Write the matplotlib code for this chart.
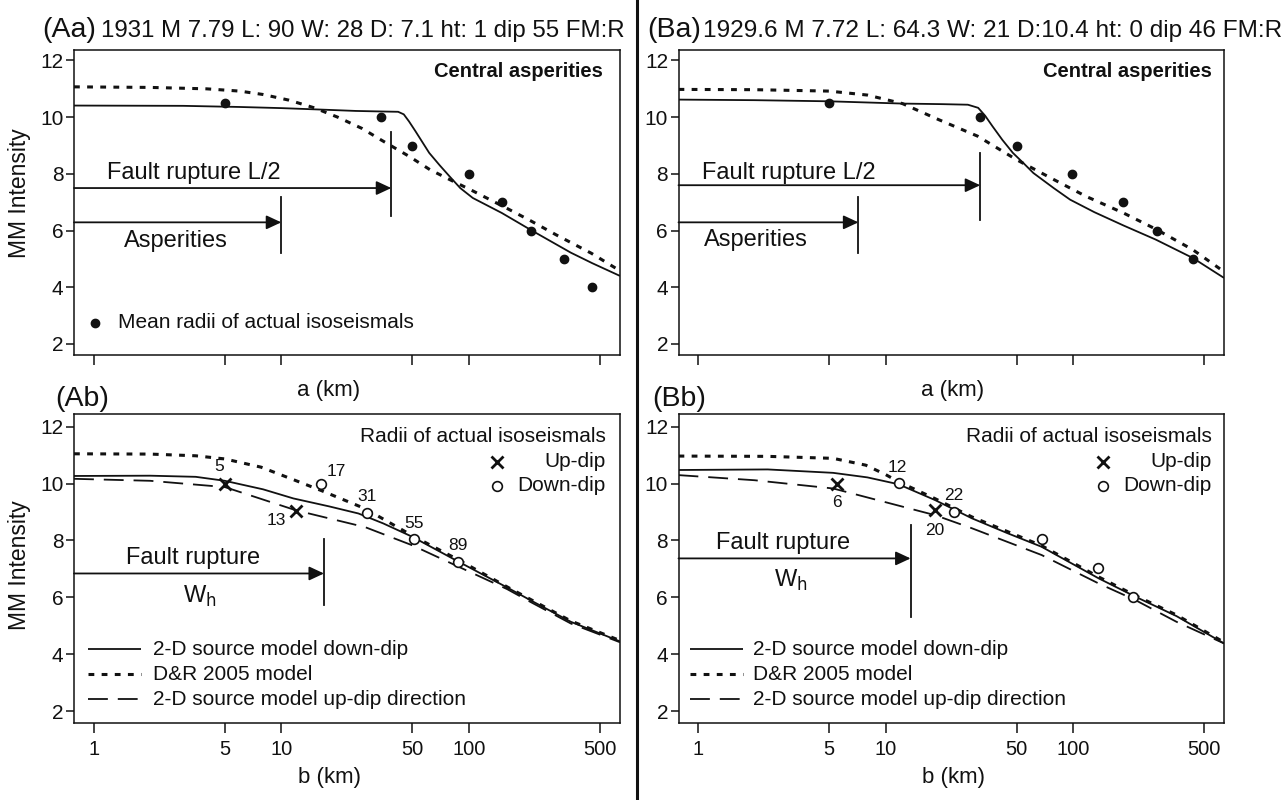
import matplotlib
matplotlib.use('Agg')
import matplotlib.pyplot as plt
from matplotlib.ticker import NullLocator
from matplotlib.lines import Line2D

plt.rcParams['font.family'] = ['Liberation Sans', 'DejaVu Sans']
INK = '#111111'

# ------------------------------------------------------------------ data
x_ticks = [1, 5, 10, 50, 100, 500]
x_tick_labels = ['1', '5', '10', '50', '100', '500']
y_ticks = [2, 4, 6, 8, 10, 12]
y_tick_labels = ['2', '4', '6', '8', '10', '12']

title_aa = '1931 M 7.79 L: 90 W: 28 D: 7.1 ht: 1 dip 55 FM:R'
title_ba = '1929.6 M 7.72 L: 64.3 W: 21 D:10.4 ht: 0 dip 46 FM:R'

# (Aa) central asperities, a (km)
aa_solid_km = [0.785, 3, 6, 10, 16, 25, 35, 42, 45, 48, 52, 61.5, 70, 79, 90, 105, 150, 213, 350, 455, 640]
aa_solid_mmi = [10.41, 10.40, 10.36, 10.32, 10.27, 10.22, 10.20, 10.19, 10.10, 9.85, 9.50, 8.74, 8.30, 7.91,
                7.50, 7.15, 6.62, 6.03, 5.22, 4.85, 4.40]
aa_dr_km = [0.785, 2, 4, 6, 8, 11, 15, 20, 27, 34, 48, 62, 79, 105, 158, 213, 292, 450, 640]
aa_dr_mmi = [11.07, 11.05, 11.00, 10.92, 10.80, 10.60, 10.33, 10.00, 9.60, 9.20, 8.62, 8.15, 7.80, 7.40,
             6.80, 6.35, 5.85, 5.20, 4.58]
aa_obs_km = [5, 34, 50, 100, 150, 215, 320, 455]
aa_obs_mmi = [10.5, 10, 9, 8, 7, 6, 5, 4]
aa_half_length_km = 38.6
aa_asperity_km = 10.0

# (Ab) b (km)
ab_down_km = [0.785, 2, 3.5, 5, 8, 11.6, 18, 25.8, 35, 50, 85, 163, 213, 350, 640]
ab_down_mmi = [10.27, 10.28, 10.24, 10.10, 9.80, 9.48, 9.20, 8.95, 8.60, 8.13, 7.31, 6.32, 5.90, 5.14, 4.45]
ab_dr_km = [0.785, 2, 3.5, 5, 7.8, 11, 16.3, 28, 50, 88, 163, 213, 350, 640]
ab_dr_mmi = [11.05, 11.04, 10.98, 10.87, 10.58, 10.20, 9.76, 9.12, 8.17, 7.32, 6.34, 5.93, 5.17, 4.48]
ab_up_km = [0.785, 2, 5, 12, 28, 50, 88, 160, 213, 350, 640]
ab_up_mmi = [10.17, 10.10, 9.88, 9.06, 8.47, 7.83, 7.08, 6.29, 5.84, 5.08, 4.42]
ab_updip_obs_km = [5, 12]
ab_updip_obs_mmi = [10.0, 9.03]
ab_updip_labels = ['5', '13']
ab_downdip_obs_km = [16.3, 28.5, 51, 88]
ab_downdip_obs_mmi = [10.0, 8.97, 8.07, 7.25]
ab_downdip_labels = ['17', '31', '55', '89']
ab_wh_km = 16.9

# (Ba) central asperities, a (km)
ba_solid_km = [0.785, 2, 5, 12.3, 20, 27.5, 31.2, 34, 37.2, 42, 47.8, 55, 61.5, 78.9, 96.6, 130, 186, 277, 437, 640]
ba_solid_mmi = [10.62, 10.60, 10.56, 10.48, 10.46, 10.44, 10.33, 10.05, 9.68, 9.20, 8.74, 8.35, 8.03, 7.50,
                7.09, 6.65, 6.18, 5.68, 5.03, 4.33]
ba_dr_km = [0.785, 2, 5, 8, 12.3, 19.1, 31, 50, 79, 118, 186, 277, 437, 640]
ba_dr_mmi = [10.98, 10.97, 10.92, 10.78, 10.48, 9.92, 9.33, 8.50, 7.80, 7.20, 6.62, 6.05, 5.32, 4.55]
ba_obs_km = [5, 32, 50, 99, 186, 280, 437]
ba_obs_mmi = [10.5, 10, 9, 8, 7, 6, 5]
ba_half_length_km = 32.0
ba_asperity_km = 7.16

# (Bb) b (km)
bb_down_km = [0.785, 2.35, 5.25, 8, 11.7, 18.4, 28.9, 45, 68, 137, 216, 357, 640]
bb_down_mmi = [10.48, 10.50, 10.38, 10.22, 9.98, 9.42, 8.78, 8.25, 7.78, 6.67, 6.02, 5.34, 4.38]
bb_dr_km = [0.785, 2.35, 5.25, 7.84, 10, 11.7, 18.4, 28.9, 68, 137, 216, 357, 640]
bb_dr_mmi = [10.97, 10.96, 10.89, 10.65, 10.32, 10.07, 9.47, 8.83, 7.82, 6.72, 6.06, 5.38, 4.42]
bb_up_km = [0.785, 2, 5.25, 18.4, 28.9, 68, 137, 216, 357, 640]
bb_up_mmi = [10.30, 10.12, 9.83, 8.89, 8.43, 7.49, 6.49, 5.90, 5.14, 4.38]
bb_updip_obs_km = [5.5, 18.4]
bb_updip_obs_mmi = [9.98, 9.09]
bb_updip_labels = ['6', '20']
bb_downdip_obs_km = [11.8, 23.1, 68, 136, 210]
bb_downdip_obs_mmi = [10.03, 9.01, 8.04, 7.02, 6.02]
bb_downdip_labels = ['12', '22', '', '', '']
bb_wh_km = 13.6

legend_labels = ['2-D source model down-dip', 'D&R 2005 model', '2-D source model up-dip direction']

# ------------------------------------------------------------------ styles
XLIM = (0.785, 640)
W, H = 1287, 800
SOLID = dict(color=INK, lw=1.3, solid_capstyle='butt')
DR = dict(color=INK, lw=2.2, linestyle=(0, (1.9, 2.4)), dash_capstyle='butt')
UP = dict(color=INK, lw=1.3, linestyle=(0, (11, 5.5)), dash_capstyle='butt')
ARROW = dict(arrowstyle='-|>,head_length=0.9,head_width=0.42', lw=1.3, color=INK,
             mutation_scale=10, shrinkA=0, shrinkB=0)
CIRCLE = dict(mfc='white', mec=INK, ms=7, mew=1.2)
CROSS = dict(color=INK, ms=9, mew=2.0)

fig = plt.figure(figsize=(W / 100, H / 100), dpi=100)


def px_axes(x0, y0, x1, y1):
    return fig.add_axes([x0 / W, 1 - y1 / H, (x1 - x0) / W, (y1 - y0) / H])


def style_axes(ax, ylim, labels):
    ax.set_xscale('log')
    ax.set_xlim(*XLIM)
    ax.set_ylim(*ylim)
    ax.set_xticks(x_ticks)
    ax.xaxis.set_minor_locator(NullLocator())
    ax.set_xticklabels(x_tick_labels if labels else [])
    ax.set_yticks(y_ticks)
    ax.set_yticklabels(y_tick_labels)
    ax.tick_params(axis='x', length=7.2, width=1.1, direction='out', labelsize=14.5, pad=5, colors=INK)
    ax.tick_params(axis='y', length=5.5, width=1.1, direction='out', labelsize=15, pad=2, colors=INK)
    for s in ax.spines.values():
        s.set_linewidth(1.1)
        s.set_color(INK)


def arrow(ax, x_tip, y):
    ax.annotate('', xy=(x_tip, y), xycoords='data', xytext=(0, y),
                textcoords=('axes fraction', 'data'), arrowprops=ARROW)


TOP_Y = (1.61, 12.37)
BOT_Y = (1.58, 12.45)

# ---------------- (Aa)
ax = px_axes(74, 50, 620, 355)
style_axes(ax, TOP_Y, False)
ax.plot(aa_solid_km, aa_solid_mmi, **SOLID)
ax.plot(aa_dr_km, aa_dr_mmi, **DR)
ax.plot(aa_obs_km, aa_obs_mmi, 'o', color=INK, ms=6, zorder=5)
ax.text(0.969, 0.929, 'Central asperities', transform=ax.transAxes, ha='right', va='center',
        fontsize=14.5, fontweight='bold', color=INK)
ax.text(1.17, 8.04, 'Fault rupture L/2', fontsize=17, va='center', ha='left', color=INK)
arrow(ax, aa_half_length_km, 7.5)
ax.plot([aa_half_length_km] * 2, [6.52, 9.46], color=INK, lw=1.3)
arrow(ax, aa_asperity_km, 6.29)
ax.plot([aa_asperity_km] * 2, [5.22, 7.2], color=INK, lw=1.3)
ax.text(1.45, 5.64, 'Asperities', fontsize=17, va='center', ha='left', color=INK)
ax.plot([0.038], [0.106], 'o', color=INK, ms=6, transform=ax.transAxes, clip_on=False)
ax.text(0.081, 0.106, 'Mean radii of actual isoseismals', transform=ax.transAxes,
        fontsize=15, va='center', ha='left', color=INK)

# ---------------- (Ba)
ax = px_axes(678.5, 50, 1224, 355)
style_axes(ax, TOP_Y, False)
ax.plot(ba_solid_km, ba_solid_mmi, **SOLID)
ax.plot(ba_dr_km, ba_dr_mmi, **DR)
ax.plot(ba_obs_km, ba_obs_mmi, 'o', color=INK, ms=6, zorder=5)
ax.text(0.978, 0.929, 'Central asperities', transform=ax.transAxes, ha='right', va='center',
        fontsize=14.5, fontweight='bold', color=INK)
ax.text(1.05, 8.03, 'Fault rupture L/2', fontsize=17, va='center', ha='left', color=INK)
arrow(ax, ba_half_length_km, 7.6)
ax.plot([ba_half_length_km] * 2, [6.38, 8.74], color=INK, lw=1.3)
arrow(ax, ba_asperity_km, 6.29)
ax.plot([ba_asperity_km] * 2, [5.2, 7.2], color=INK, lw=1.3)
ax.text(1.07, 5.67, 'Asperities', fontsize=17, va='center', ha='left', color=INK)


def bottom_panel(ax, down, dr, up, upobs, downobs, up_off, down_off, wh_km, text_y, arrow_y,
                 vline, wh_pos, fr_x, leg_x0, leg_x1, leg_tx, rad_x, mk_x):
    style_axes(ax, BOT_Y, True)
    ax.plot(*down, **SOLID)
    ax.plot(*dr, **DR)
    ax.plot(*up, **UP)
    ax.plot(upobs[0], upobs[1], 'x', zorder=5, **CROSS)
    ax.plot(downobs[0], downobs[1], 'o', zorder=5, **CIRCLE)
    for xk, yk, lab, off in zip(upobs[0], upobs[1], upobs[2], up_off):
        ax.annotate(lab, (xk, yk), xytext=off, textcoords='offset points', ha='center',
                    va='center', fontsize=12.5, color=INK)
    for xk, yk, lab, off in zip(downobs[0], downobs[1], downobs[2], down_off):
        if lab:
            ax.annotate(lab, (xk, yk), xytext=off, textcoords='offset points', ha='center',
                        va='center', fontsize=12.5, color=INK)
    ax.text(fr_x, text_y, 'Fault rupture', fontsize=17, va='center', ha='left', color=INK)
    arrow(ax, wh_km, arrow_y)
    ax.plot([wh_km] * 2, vline, color=INK, lw=1.3)
    ax.text(wh_pos[0], wh_pos[1], r'W$_{\mathrm{h}}$', fontsize=17, va='center', ha='left', color=INK)
    # line legend
    for yy, st, lab in zip([0.2385, 0.1576, 0.0767], [SOLID, DR, UP], legend_labels):
        ax.add_line(Line2D([leg_x0, leg_x1], [yy, yy], transform=ax.transAxes, **st))
        ax.text(leg_tx, yy, lab, transform=ax.transAxes, fontsize=15, va='center', ha='left', color=INK)
    # marker legend
    ax.text(rad_x, 0.9265, 'Radii of actual isoseismals', transform=ax.transAxes, fontsize=15,
            ha='right', va='center', color=INK)
    ax.plot([mk_x], [0.8456], 'x', transform=ax.transAxes, **CROSS)
    ax.text(rad_x, 0.8456, 'Up-dip', transform=ax.transAxes, fontsize=15, ha='right', va='center', color=INK)
    ax.plot([mk_x], [0.767], 'o', transform=ax.transAxes, **CIRCLE)
    ax.text(rad_x, 0.767, 'Down-dip', transform=ax.transAxes, fontsize=15, ha='right', va='center', color=INK)


# ---------------- (Ab)
ax = px_axes(74, 414, 620, 723)
bottom_panel(ax, (ab_down_km, ab_down_mmi), (ab_dr_km, ab_dr_mmi), (ab_up_km, ab_up_mmi),
             (ab_updip_obs_km, ab_updip_obs_mmi, ab_updip_labels),
             (ab_downdip_obs_km, ab_downdip_obs_mmi, ab_downdip_labels),
             [(-4, 12), (-14, -7)], [(11, 9), (0, 12), (0, 11), (0, 12)],
             ab_wh_km, 7.38, 6.84, [5.73, 8.07], (3.0, 6.02), 1.49,
             0.026, 0.123, 0.145, 0.974, 0.774)

# ---------------- (Bb)
ax = px_axes(678.5, 414, 1224, 723)
bottom_panel(ax, (bb_down_km, bb_down_mmi), (bb_dr_km, bb_dr_mmi), (bb_up_km, bb_up_mmi),
             (bb_updip_obs_km, bb_updip_obs_mmi, bb_updip_labels),
             (bb_downdip_obs_km, bb_downdip_obs_mmi, bb_downdip_labels),
             [(0, -13), (0, -15)], [(-1, 11), (0, 12), (0, 0), (0, 0), (0, 0)],
             bb_wh_km, 7.9, 7.37, [5.31, 8.54], (2.53, 6.61), 1.25,
             0.021, 0.118, 0.137, 0.978, 0.779)

# ---------------- figure-level text
def ftext(x, y, s, **kw):
    fig.text(x / W, 1 - y / H, s, color=INK, **kw)

ftext(42, 37, '(Aa)', fontsize=20.5, ha='left', va='baseline')
ftext(101, 37, title_aa, fontsize=17.3, ha='left', va='baseline')
ftext(647, 37, '(Ba)', fontsize=20.5, ha='left', va='baseline')
ftext(703, 37, title_ba, fontsize=17.6, ha='left', va='baseline')
ftext(55, 406, '(Ab)', fontsize=20.5, ha='left', va='baseline')
ftext(652, 406, '(Bb)', fontsize=20.5, ha='left', va='baseline')
ftext(329, 390, 'a (km)', fontsize=16, ha='center', va='center')
ftext(953, 390, 'a (km)', fontsize=16, ha='center', va='center')
ftext(330, 777, 'b (km)', fontsize=16, ha='center', va='center')
ftext(953, 777, 'b (km)', fontsize=16, ha='center', va='center')
ftext(20, 193, 'MM Intensity', fontsize=16.5, ha='center', va='center', rotation=90)
ftext(20, 565, 'MM Intensity', fontsize=16.5, ha='center', va='center', rotation=90)

fig.add_artist(Line2D([637 / W, 637 / W], [0, 1], transform=fig.transFigure, color=INK, lw=2.2))

fig.savefig('out.png', dpi=100, facecolor='white')
